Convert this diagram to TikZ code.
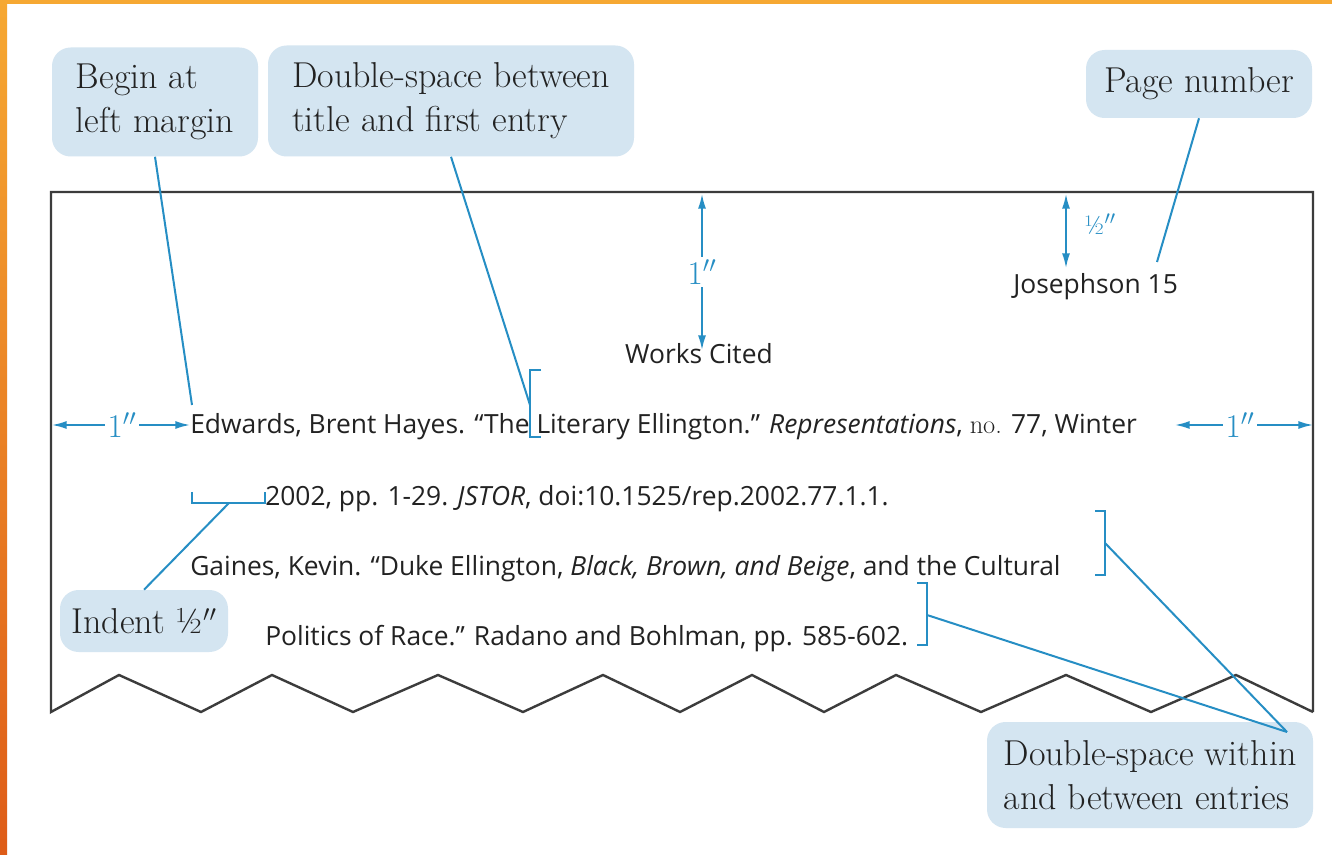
\documentclass[tikz,border=0pt]{standalone}
\usepackage{fontspec}
\setsansfont{Open Sans}
\usepackage{tikz}
\usetikzlibrary{arrows.meta}

\definecolor{leadblue}{RGB}{38,142,196}
\definecolor{calloutfill}{RGB}{212,229,241}
\definecolor{pagegray}{RGB}{60,60,60}
\definecolor{inkgray}{RGB}{34,34,34}
\definecolor{orangetop}{RGB}{246,168,50}
\definecolor{orangebot}{RGB}{222,92,24}

\begin{document}
\begin{tikzpicture}[x=0.75pt,y=-0.75pt,
    callout/.style={fill=calloutfill, rounded corners=14pt, align=left, text=inkgray,
      inner sep=0pt, font=\fontsize{27}{33}\selectfont},
    lead/.style={draw=leadblue, line width=1.5pt},
    bracket/.style={draw=leadblue, line width=1.5pt},
    dim/.style={draw=leadblue, line width=1.3pt, -{Latex[length=11pt,width=6pt]}},
    dimboth/.style={draw=leadblue, line width=1.3pt, {Latex[length=11pt,width=6pt]}-{Latex[length=11pt,width=6pt]}},
    dimlabel/.style={text=leadblue, inner sep=2pt, font=\fontsize{23}{23}\selectfont},
    pageline/.style={draw=pagegray, line width=1.8pt},
    entry/.style={anchor=base west, inner sep=0pt, text=inkgray, font=\sffamily\fontsize{19.8}{20}\selectfont}]
    \useasboundingbox (0,0) rectangle (1332,855);
    \fill[white] (0,0) rectangle (1332,855);
    \shade[top color=orangetop, bottom color=orangebot] (0,0) rectangle (7,855);
    \fill[orangetop] (0,0) rectangle (1332,4);

    \draw[pageline] (1313,712) -- (1313,192) -- (51,192) -- (51,712)
        \foreach \x [count=\i] in {119,201,272,353,438,523,603,680,752,824,896,981,1066,1151,1236,1313} { -- (\x,{712-37*mod(\i,2)}) };

    \node[callout, minimum width=154.5pt, minimum height=81.75pt] (begin) at (155,102) {Begin at\\left margin};
    \node[callout, minimum width=274.5pt, minimum height=83.25pt] (dsb) at (451,101) {Double-space between\\title and first entry};
    \node[callout, minimum width=169.5pt, minimum height=51pt] (pnum) at (1199,84) {Page number};
    \node[callout, minimum width=126pt, minimum height=46.5pt] (indent) at (144,621) {Indent ½$''$};
    \node[callout, minimum width=244.5pt, minimum height=79.5pt] (dsw) at (1150,775) {Double-space within\\and between entries};

    \node[entry] (jos) at (1013,294) {Josephson 15};
    \node[entry, anchor=base] (works) at (699,364) {Works Cited};
    \node[entry] (line1) at (190,434) {Edwards, Brent Hayes. “The Literary Ellington.” \textit{Representations}, {\rmfamily no.} 77, Winter};
    \node[entry] (line2) at (265,506) {2002, pp. 1-29. \textit{JSTOR}, doi:10.1525/rep.2002.77.1.1.};
    \node[entry] (line3) at (190,575) {Gaines, Kevin. “Duke Ellington, \textit{Black, Brown, and Beige}, and the Cultural};
    \node[entry] (line4) at (265,645) {Politics of Race.” Radano and Bohlman, pp. 585-602.};

    \node[dimlabel] (tone) at (702,272) {$1''$};
    \coordinate (ttop) at (702,194);
    \coordinate (tbottom) at (702,350);
    \draw[dim] (tone) -- (ttop);
    \draw[dim] (tone) -- (tbottom);

    \node[dimlabel] (lone) at (122,425) {$1''$};
    \coordinate (lmargin) at (52,425);
    \coordinate (ltext) at (190,425);
    \draw[dim] (lone) -- (lmargin);
    \draw[dim] (lone) -- (ltext);

    \node[dimlabel] (rone) at (1240,425) {$1''$};
    \coordinate (rtext) at (1175,425);
    \coordinate (rmargin) at (1313,425);
    \draw[dim] (rone) -- (rtext);
    \draw[dim] (rone) -- (rmargin);

    \coordinate (htop) at (1066,194);
    \coordinate (hbottom) at (1066,268);
    \draw[dimboth] (htop) -- (hbottom);
    \node[dimlabel, font=\fontsize{20}{20}\selectfont] (half) at (1100,224) {½$''$};

    \draw[bracket] (541,370) -- (530,370) -- (530,437) -- (541,437);
    \draw[bracket] (192,492) -- (192,503) -- (265,503) -- (265,492);
    \draw[bracket] (1095,511) -- (1105,511) -- (1105,575) -- (1095,575);
    \draw[bracket] (917,583) -- (927,583) -- (927,645) -- (917,645);

    \coordinate (edw) at (192,405);
    \coordinate (brA) at (530,405);
    \coordinate (pagetip) at (1157,262);
    \coordinate (brI) at (229,503);
    \coordinate (brB) at (1105,543);
    \coordinate (brC) at (927,615);
    \coordinate (dswtip) at (1287,732);

    \draw[lead] (begin.south) -- (edw);
    \draw[lead] (dsb.south) -- (brA);
    \draw[lead] (pnum.south) -- (pagetip);
    \draw[lead] (indent.north) -- (brI);
    \draw[lead] (dswtip) -- (brB);
    \draw[lead] (dswtip) -- (brC);
\end{tikzpicture}
\end{document}
